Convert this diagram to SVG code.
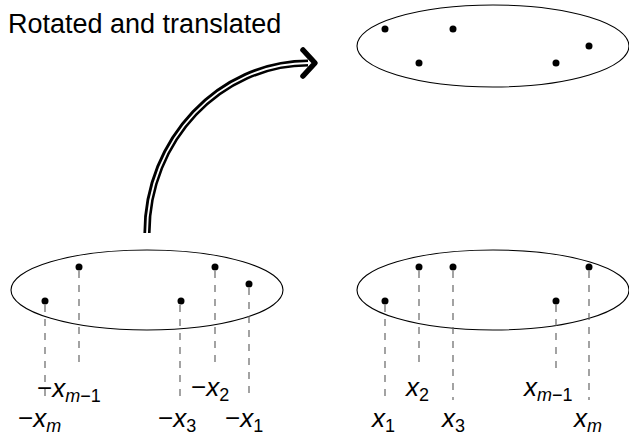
<svg xmlns="http://www.w3.org/2000/svg" width="629" height="432" viewBox="0 0 629 432">
<style>
.ell{fill:none;stroke:#000;stroke-width:1.1}
.dot{fill:#000}
.dash{stroke:#666;stroke-width:1.2;stroke-dasharray:7 7;fill:none}
text{font-family:"Liberation Sans",Arial,sans-serif;fill:#000}
.lbl{font-size:26px}
.it{font-style:italic}
.sub{font-size:18px}
</style>
<text x="8" y="33" font-size="27">Rotated and translated</text>
<g id="connectors">
<path d="M147,233 C147,140 220,63 308,63" fill="none" stroke="#000" stroke-width="7.2"/>
<path d="M147,234 C147,140 220,63 309,63" fill="none" stroke="#fff" stroke-width="1.8"/>
<path d="M303,50 L315,63 L303,76" fill="none" stroke="#000" stroke-width="5.5" stroke-linecap="round" stroke-linejoin="round"/>
</g>
<g id="top-set">
<ellipse class="ell" cx="493" cy="46" rx="136" ry="41"/>
<circle class="dot" cx="385" cy="29" r="3.5"/>
<circle class="dot" cx="419" cy="63" r="3.5"/>
<circle class="dot" cx="453" cy="29" r="3.5"/>
<circle class="dot" cx="556" cy="63" r="3.5"/>
<circle class="dot" cx="589" cy="46" r="3.5"/>
</g>
<g id="left-set">
<ellipse class="ell" cx="147" cy="290" rx="136" ry="40"/>
<path class="dash" d="M45,305V400 M79,271V368 M180,305V400 M215,271V368 M249,288V400"/>
<circle class="dot" cx="45" cy="301" r="3.5"/>
<circle class="dot" cx="79" cy="267" r="3.5"/>
<circle class="dot" cx="181" cy="301" r="3.5"/>
<circle class="dot" cx="215" cy="267" r="3.5"/>
<circle class="dot" cx="249" cy="284" r="3.5"/>
<text class="lbl" x="37" y="397">−<tspan class="it">x</tspan><tspan class="sub it" dy="5">m</tspan><tspan class="sub">−1</tspan></text>
<text class="lbl" x="18" y="427">−<tspan class="it">x</tspan><tspan class="sub it" dy="5">m</tspan></text>
<text class="lbl" x="191" y="396">−<tspan class="it">x</tspan><tspan class="sub" dy="5">2</tspan></text>
<text class="lbl" x="158" y="427">−<tspan class="it">x</tspan><tspan class="sub" dy="5">3</tspan></text>
<text class="lbl" x="225" y="427">−<tspan class="it">x</tspan><tspan class="sub" dy="5">1</tspan></text>
</g>
<g id="right-set">
<ellipse class="ell" cx="493" cy="290" rx="136" ry="40"/>
<path class="dash" d="M385,305V400 M419,271V368 M453,271V400 M556,305V368 M589,271V400"/>
<circle class="dot" cx="385" cy="301" r="3.5"/>
<circle class="dot" cx="419" cy="267" r="3.5"/>
<circle class="dot" cx="453" cy="267" r="3.5"/>
<circle class="dot" cx="556" cy="301" r="3.5"/>
<circle class="dot" cx="589" cy="267" r="3.5"/>
<text class="lbl" x="372" y="427"><tspan class="it">x</tspan><tspan class="sub" dy="5">1</tspan></text>
<text class="lbl" x="406" y="396"><tspan class="it">x</tspan><tspan class="sub" dy="5">2</tspan></text>
<text class="lbl" x="442" y="427"><tspan class="it">x</tspan><tspan class="sub" dy="5">3</tspan></text>
<text class="lbl" x="524" y="396"><tspan class="it">x</tspan><tspan class="sub it" dy="5">m</tspan><tspan class="sub">−1</tspan></text>
<text class="lbl" x="574" y="427"><tspan class="it">x</tspan><tspan class="sub it" dy="5">m</tspan></text>
</g>
</svg>
